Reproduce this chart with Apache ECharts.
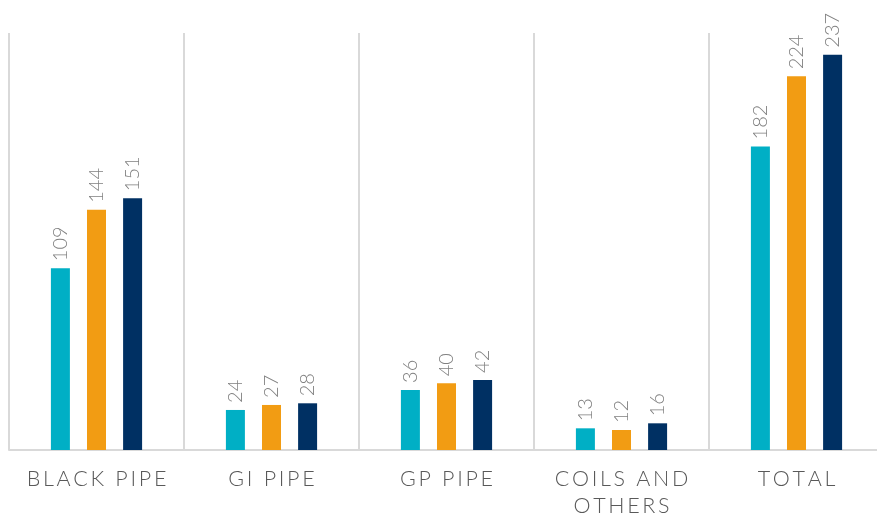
<!DOCTYPE html>
<html>
<head>
<meta charset="utf-8">
<script src="https://cdn.jsdelivr.net/npm/echarts@6/dist/echarts.min.js"></script>
<style>
  html, body { margin: 0; padding: 0; background: #ffffff; }
  #chart { width: 877px; height: 516px; }
</style>
</head>
<body>
<div id="chart"></div>
<script>
// Product categories (x axis)
const categories = ['BLACK PIPE', 'GI PIPE', 'GP PIPE', 'COILS AND\nOTHERS', 'TOTAL'];
// Three periods, one series each
const seriesA = [109, 24, 36, 13, 182];
const seriesB = [144, 27, 40, 12, 224];
const seriesC = [151, 28, 42, 16, 237];
const seriesNames = ['A', 'B', 'C'];
const colors = ['#00AFC5', '#F29C13', '#003063'];

const chart = echarts.init(document.getElementById('chart'));

// Wide tracking for the category captions: thin space between letters
function track(text) {
  return text.split('\n').map(function (line) {
    return line.split('').join('\u2009');
  }).join('\n');
}

function makeSeries(name, data, color) {
  return {
    name: name,
    type: 'bar',
    data: data,
    barWidth: 19,
    barGap: '90%',
    itemStyle: { color: color },
    label: {
      show: true,
      position: 'top',
      rotate: 90,
      align: 'left',
      verticalAlign: 'middle',
      distance: 7,
      color: '#808080',
      fontFamily: 'Lato, "Open Sans", sans-serif',
      fontSize: 20,
      fontWeight: 300
    }
  };
}

chart.setOption({
  animation: false,
  grid: { left: 9, right: -7, top: 33, bottom: 66, containLabel: false, outerBoundsMode: 'none' },
  xAxis: {
    type: 'category',
    data: categories,
    axisLine: { show: true, lineStyle: { color: '#D9D9D9', width: 2 } },
    axisTick: { show: false },
    splitLine: { show: true, interval: 0, lineStyle: { color: '#D9D9D9', width: 2 } },
    axisLabel: {
      interval: 0,
      hideOverlap: false,
      color: '#595959',
      fontFamily: 'Lato, "Open Sans", sans-serif',
      fontSize: 21.5,
      fontWeight: 300,
      lineHeight: 27,
      margin: 16,
      formatter: function (v) { return track(v); }
    }
  },
  yAxis: {
    type: 'value',
    min: 0,
    max: 250,
    show: false,
    splitLine: { show: false }
  },
  series: [
    makeSeries(seriesNames[0], seriesA, colors[0]),
    makeSeries(seriesNames[1], seriesB, colors[1]),
    makeSeries(seriesNames[2], seriesC, colors[2])
  ]
});
</script>
</body>
</html>
